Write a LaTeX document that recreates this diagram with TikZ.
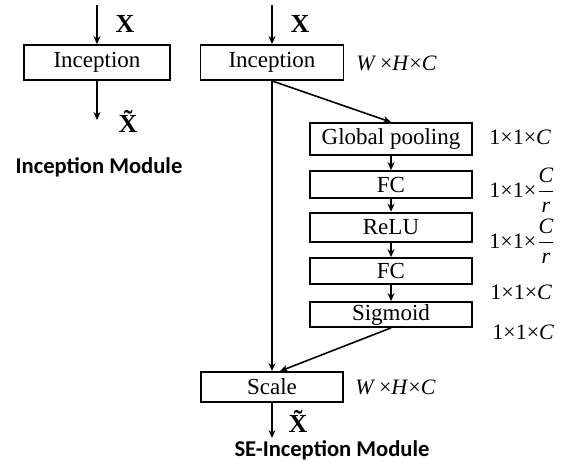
\documentclass[tikz,border=0pt]{standalone}
\usepackage{fontspec}
\setmainfont{Liberation Serif}
\newfontfamily\labelfont{Carlito}
\usetikzlibrary{arrows.meta}
\tikzset{
  block/.style = {draw, line width=0.9pt, rectangle, inner sep=0pt, font=\fontsize{11.5}{13}\selectfont},
  flow/.style = {line width=0.8pt, -{Stealth[length=4pt,width=3.5pt]}},
  dimlabel/.style = {anchor=west, inner sep=0pt, font=\fontsize{11}{12}\selectfont},
  xlabel/.style = {inner sep=0pt, font=\fontsize{13}{14}\selectfont\bfseries},
  title/.style = {inner sep=0pt, font=\fontsize{11.3}{12}\selectfont\labelfont\bfseries}
}
\begin{document}
\begin{tikzpicture}[x=0.5pt,y=-0.5pt]
  \useasboundingbox (0,0) rectangle (571,461);
  %Inception module
  \coordinate (lin) at (97,5);
  \coordinate (lout) at (97,120);
  \node[block, minimum width=73pt, minimum height=17.5pt] (incl) at (97,62.5) {Inception};
  \draw[flow] (lin) -- (incl);
  \draw[flow] (incl) -- (lout);
  \node[xlabel] (xl) at (125,24) {X};
  \node[xlabel] (xtl) at (128,121) {\~{X}};
  \node[title] (tl) at (99,167) {Inception Module};

  %SE-Inception module
  \coordinate (rin) at (272,5);
  \coordinate (rout) at (272,438);
  \node[block, minimum width=71.5pt, minimum height=17.5pt] (incr) at (272,62.5) {Inception};
  \node[block, minimum width=81pt, minimum height=16pt] (gp) at (391,139) {Global pooling};
  \node[block, minimum width=81pt, minimum height=13.5pt] (fca) at (391,184.5) {FC};
  \node[block, line width=1.3pt, minimum width=81pt, minimum height=14.5pt] (relu) at (391,227.5) {ReLU};
  \node[block, minimum width=81pt, minimum height=13pt] (fcb) at (391,271) {FC};
  \node[block, minimum width=81pt, minimum height=12.5pt] (sig) at (391,314.5) {Sigmoid};
  \node[block, minimum width=71pt, minimum height=15pt] (scale) at (272,387) {Scale};
  \draw[flow] (rin) -- (incr);
  \draw[flow] (incr.south) -- (scale.north);
  \draw[flow] (incr.south) -- (gp.north);
  \draw[flow] (gp) -- (fca);
  \draw[flow] (fca) -- (relu);
  \draw[flow] (relu) -- (fcb);
  \draw[flow] (fcb) -- (sig);
  \draw[flow] (sig.south) -- ([xshift=4pt]scale.north);
  \draw[flow] (scale) -- (rout);
  \node[xlabel] (xr) at (300,24) {X};
  \node[xlabel] (xtr) at (298,421) {\~{X}};
  \node[title] (tr) at (332,450) {SE-Inception Module};

  %Output sizes
  \node[dimlabel] (da) at (356,63) {\textit{W}\,×\textit{H}×\textit{C}};
  \node[dimlabel] (db) at (489,137) {1×1×\textit{C}};
  \node[dimlabel] (dc) at (489,190) {1×1×$\displaystyle\frac{\textit{C}}{\textit{r}}$};
  \node[dimlabel] (dd) at (489,241) {1×1×$\displaystyle\frac{\textit{C}}{\textit{r}}$};
  \node[dimlabel] (de) at (490,292) {1×1×\textit{C}};
  \node[dimlabel] (df) at (492,332) {1×1×\textit{C}};
  \node[dimlabel] (dg) at (355,387) {\textit{W}\,×\textit{H}×\textit{C}};
\end{tikzpicture}
\end{document}
